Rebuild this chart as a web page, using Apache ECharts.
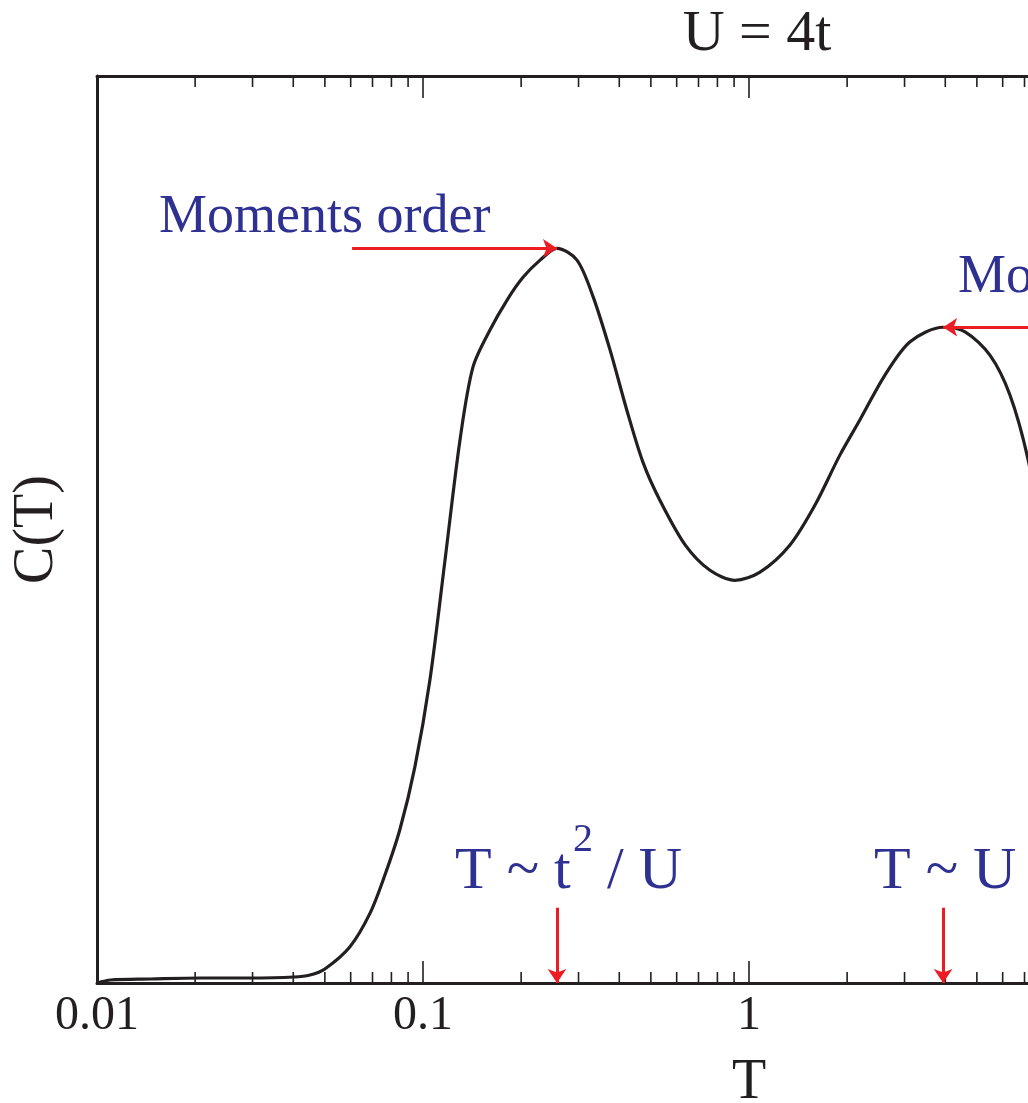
<!DOCTYPE html>
<html>
<head>
<meta charset="utf-8">
<script src="https://cdn.jsdelivr.net/npm/echarts@6/dist/echarts.min.js"></script>
<style>
html, body { margin: 0; padding: 0; background: #fff; }
#chart { width: 1028px; height: 1103px; }
</style>
</head>
<body>
<div id="chart"></div>
<script>
// C(T) curve (T on a log axis, C in arbitrary units 0..1)
var curveT = [0.01, 0.011, 0.0146, 0.0207, 0.0295, 0.0402, 0.045, 0.05, 0.0597, 0.0688,
    0.0764, 0.0849, 0.0944, 0.105, 0.1168, 0.1299, 0.1423, 0.1605, 0.1811, 0.2027,
    0.2286, 0.2576, 0.2967, 0.3322, 0.3747, 0.4224, 0.473, 0.5333, 0.637, 0.759, 0.906,
    1.081, 1.336, 1.594, 1.90, 2.19, 2.61, 3.12, 3.94, 4.60, 5.49,
    6.32, 7.18, 9.0, 11.9, 17.0, 34.4, 100];
var curveC = [0, 0.0033, 0.0044, 0.0055, 0.0055, 0.0066, 0.0088, 0.0155, 0.040, 0.077,
    0.119, 0.169, 0.238, 0.334, 0.466, 0.599, 0.679, 0.720, 0.753, 0.778,
    0.797, 0.810, 0.797, 0.757, 0.698, 0.631, 0.574, 0.532, 0.483, 0.455, 0.444,
    0.453, 0.483, 0.527, 0.582, 0.621, 0.670, 0.707, 0.723, 0.718, 0.692,
    0.648, 0.577, 0.400, 0.202, 0.069, 0.012, 0.0055];

// tick labels of the T axis
var xTickLabels = ['0.01', '0.1', '1', '10', '100'];

// the two scales marked with arrows: t^2/U and U (U = 4t)
var lowPeakT = 0.2576, lowPeakC = 0.810;
var highPeakT = 3.94, highPeakC = 0.723;

var serif = 'Liberation Serif';
var ink = '#231f20';
var blue = '#2e3192';
var red = '#ed1c24';

var curveData = [];
for (var i = 0; i < curveT.length; i++) curveData.push([curveT[i], curveC[i]]);

var minorT = [];
for (var d = -2; d < 2; d++) {
    for (var m = 2; m <= 9; m++) minorT.push([m * Math.pow(10, d), 0]);
}

var dom = document.getElementById('chart');
var myChart = echarts.init(dom);
var option = {
    animation: false,
    title: {
        text: 'U = 4t',
        left: 757,
        top: 6,
        padding: 0,
        textAlign: 'center',
        textStyle: { fontFamily: serif, fontSize: 58, fontWeight: 'normal', color: ink }
    },
    // plot runs on to T = 100, past the right edge of the picture
    grid: { left: 97, top: 76, right: -373, bottom: 120, outerBoundsMode: 'none', containLabel: false },
    xAxis: [{
        type: 'log', logBase: 10, min: 0.01, max: 100,
        position: 'bottom',
        name: 'T', nameLocation: 'middle', nameGap: 72,
        nameTextStyle: { fontFamily: serif, fontSize: 56, color: ink },
        axisLine: { show: true, lineStyle: { color: ink, width: 3 } },
        axisTick: { show: true, inside: true, length: 22, lineStyle: { color: ink, width: 1.6 } },
        axisLabel: {
            show: true, margin: 9, showMinLabel: true, showMaxLabel: true,
            fontFamily: serif, fontSize: 48, color: ink,
            formatter: function (v) { return xTickLabels[Math.round(Math.log10(v)) + 2]; }
        },
        splitLine: { show: false }
    }, {
        type: 'log', logBase: 10, min: 0.01, max: 100,
        position: 'top',
        axisLine: { show: true, lineStyle: { color: ink, width: 3 } },
        axisTick: { show: true, inside: true, length: 22, lineStyle: { color: ink, width: 1.6 } },
        axisLabel: { show: false },
        splitLine: { show: false }
    }],
    yAxis: [{
        type: 'value', min: 0, max: 1,
        position: 'left',
        name: 'C(T)', nameLocation: 'middle', nameRotate: 90, nameGap: 32,
        nameTextStyle: { fontFamily: serif, fontSize: 56, color: ink },
        axisLine: { show: true, lineStyle: { color: ink, width: 3 } },
        axisTick: { show: false },
        axisLabel: { show: false },
        splitLine: { show: false }
    }],
    graphic: [
        { type: 'text', left: 159, top: 191, silent: true,
          style: { text: 'Moments order', fontFamily: serif, fontSize: 54, fill: blue } },
        { type: 'text', left: 958, top: 251, silent: true,
          style: { text: 'Moments form', fontFamily: serif, fontSize: 54, fill: blue } },
        { type: 'text', left: 455, top: 842, silent: true,
          style: { text: 'T ~ t', fontFamily: serif, fontSize: 60, fill: blue } },
        { type: 'text', left: 573, top: 820, silent: true,
          style: { text: '2', fontFamily: serif, fontSize: 40, fill: blue } },
        { type: 'text', left: 607, top: 842, silent: true,
          style: { text: '/ U', fontFamily: serif, fontSize: 60, fill: blue } },
        { type: 'text', left: 874, top: 842, silent: true,
          style: { text: 'T ~ U', fontFamily: serif, fontSize: 60, fill: blue } }
    ],
    series: [{
        name: 'C(T)',
        type: 'line',
        data: curveData,
        smooth: 0.3,
        showSymbol: false,
        symbol: 'none',
        lineStyle: { color: ink, width: 3.2 },
        z: 3,
        markLine: {
            silent: true,
            symbol: ['none', 'arrow'],
            symbolSize: 14,
            label: { show: false },
            lineStyle: { color: red, width: 3, type: 'solid' },
            data: [
                [{ coord: [0.0606, lowPeakC] }, { coord: [lowPeakT, lowPeakC] }],
                [{ coord: [30, highPeakC] }, { coord: [highPeakT, highPeakC] }],
                [{ coord: [lowPeakT, 0.083] }, { coord: [lowPeakT, 0] }],
                [{ coord: [highPeakT, 0.083] }, { coord: [highPeakT, 0] }]
            ]
        }
    }, {
        name: 'minor ticks',
        type: 'custom',
        data: minorT,
        silent: true,
        z: 4,
        renderItem: function (params, api) {
            var b = api.coord([api.value(0), 0]);
            var t = api.coord([api.value(0), 1]);
            var st = { stroke: ink, lineWidth: 1.6 };
            return {
                type: 'group',
                children: [
                    { type: 'line', shape: { x1: b[0], y1: b[1], x2: b[0], y2: b[1] - 11 }, style: st },
                    { type: 'line', shape: { x1: t[0], y1: t[1], x2: t[0], y2: t[1] + 11 }, style: st }
                ]
            };
        }
    }]
};
if (option && typeof option === "object") {
    myChart.setOption(option, true);
}
</script>
</body>
</html>
